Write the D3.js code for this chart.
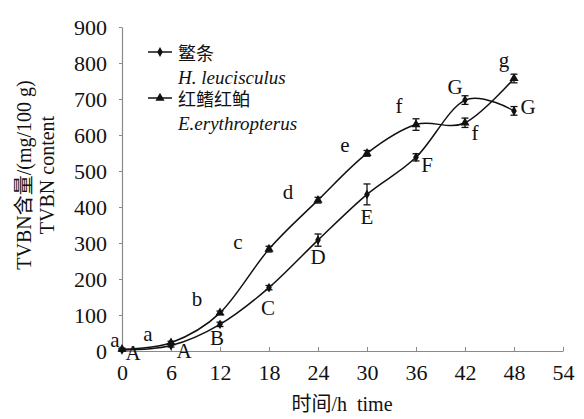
<!DOCTYPE html>
<html><head><meta charset="utf-8">
<script src="https://cdn.jsdelivr.net/npm/d3@7"></script>
<style>body{margin:0;background:#fff}</style>
</head><body>
<svg id="c" width="584" height="419"></svg>
<script>
const hours = [0, 6, 12, 18, 24, 30, 36, 42, 48];
const hlValues = [3, 15, 74, 176, 308, 435, 538, 697, 667];
const hlErrors = [3, 4, 6, 6, 17, 29, 10, 12, 12];
const hlLetters = ["A", "A", "B", "C", "D", "E", "F", "G", "G"];
const eeValues = [5, 23, 106, 283, 419, 549, 629, 634, 757];
const eeErrors = [3, 4, 5, 8, 8, 8, 16, 13, 12];
const eeLetters = ["a", "a", "b", "c", "d", "e", "f", "f", "g"];
const xTicks = [0, 6, 12, 18, 24, 30, 36, 42, 48, 54];
const yTicks = [0, 100, 200, 300, 400, 500, 600, 700, 800, 900];
const seriesNames = [["鳘条", "H. leucisculus"], ["红鳍红鲌", "E.erythropterus"]];

// label placement offsets (layout, px)
const hlOff = [[11,3],[13,5],[-3,14],[-1,20],[0,17],[0,23],[11,8],[-10,-13],[14,-4]];
const eeOff = [[-7,-9],[-23,-9],[-23,-14],[-31,-7],[-30,-8],[-22,-8],[-17,-19],[10,10],[-10,-18]];

const svg = d3.select("#c");
const x = d3.scaleLinear().domain([0, 54]).range([122, 563]);
const y = d3.scaleLinear().domain([0, 900]).range([351, 27]);
const serif = "Liberation Serif, Tinos, Times New Roman, DejaVu Serif, Noto Serif, serif";
const cjk = "Noto Sans CJK SC, sans-serif";
const axisColor = "#8a8a8a";

// axes
const xa = svg.append("g").attr("transform", `translate(0,${y(0)})`)
  .call(d3.axisBottom(x).tickValues(xTicks).tickSizeInner(-4).tickSizeOuter(0).tickPadding(13));
const ya = svg.append("g").attr("transform", `translate(${x(0)},0)`)
  .call(d3.axisLeft(y).tickValues(yTicks).tickSizeInner(3).tickSizeOuter(0).tickPadding(12));
[xa, ya].forEach(g => {
  g.attr("font-family", serif).attr("font-size", 22);
  g.select(".domain").attr("stroke", axisColor).attr("stroke-width", 1.2);
  g.selectAll(".tick line").attr("stroke", axisColor);
  g.selectAll(".tick text").attr("fill", "#111");
});
ya.selectAll(".tick text").attr("dy", "0.35em");

// axis titles
const xt = svg.append("text").attr("x", 342).attr("y", 411).attr("text-anchor", "middle")
  .attr("font-size", 20).attr("fill", "#111");
xt.append("tspan").attr("font-family", cjk).text("时间");
xt.append("tspan").attr("font-family", serif).text("/h\u00a0\u00a0time");

const yt = svg.append("g").attr("transform", "translate(31,175) rotate(-90)");
const yt1 = yt.append("text").attr("text-anchor", "middle").attr("y", 0)
  .attr("font-size", 20).attr("fill", "#111");
yt1.append("tspan").attr("font-family", serif).text("TVBN");
yt1.append("tspan").attr("font-family", cjk).text("含量");
yt1.append("tspan").attr("font-family", serif).text("/(mg/100 g)");
yt.append("text").attr("text-anchor", "middle").attr("y", 23)
  .attr("font-family", serif).attr("font-size", 20).attr("fill", "#111").text("TVBN content");

const line = d3.line().x(d => x(d[0])).y(d => y(d[1])).curve(d3.curveCardinal.tension(0));
const diamond = d3.symbol().type(d3.symbolDiamond).size(28);
const triangle = d3.symbol().type(d3.symbolTriangle).size(36);

function drawSeries(vals, errs, letters, offs, sym) {
  const pts = hours.map((h, i) => [h, vals[i]]);
  svg.append("path").attr("d", line(pts)).attr("fill", "none").attr("stroke", "#111").attr("stroke-width", 1.5);
  const g = svg.append("g");
  hours.forEach((h, i) => {
    const cx = x(h), top = y(vals[i] + errs[i]), bot = y(vals[i] - errs[i]);
    g.append("line").attr("x1", cx).attr("x2", cx).attr("y1", top).attr("y2", bot).attr("stroke", "#111").attr("stroke-width", 1.3);
    [top, bot].forEach(yy => g.append("line").attr("x1", cx - 3.5).attr("x2", cx + 3.5).attr("y1", yy).attr("y2", yy).attr("stroke", "#111").attr("stroke-width", 1.3));
    g.append("path").attr("d", sym()).attr("transform", `translate(${cx},${y(vals[i])})`).attr("fill", "#111");
    g.append("text").attr("x", cx + offs[i][0]).attr("y", y(vals[i]) + offs[i][1])
      .attr("text-anchor", "middle").attr("dominant-baseline", "central")
      .attr("font-family", serif).attr("font-size", 21).attr("fill", "#111").text(letters[i]);
  });
}
drawSeries(hlValues, hlErrors, hlLetters, hlOff, diamond);
drawSeries(eeValues, eeErrors, eeLetters, eeOff, triangle);

// legend
const leg = svg.append("g");
[[52, diamond], [98, triangle]].forEach(([ly, sym], i) => {
  leg.append("line").attr("x1", 148).attr("x2", 172).attr("y1", ly).attr("y2", ly).attr("stroke", "#111").attr("stroke-width", 1.5);
  leg.append("path").attr("d", sym()).attr("transform", `translate(160,${ly})`).attr("fill", "#111");
  leg.append("text").attr("x", 178).attr("y", ly).attr("dominant-baseline", "central")
    .attr("font-family", cjk).attr("font-size", 18).attr("fill", "#111").text(seriesNames[i][0]);
  leg.append("text").attr("x", 178).attr("y", ly + 25).attr("dominant-baseline", "central")
    .attr("font-family", serif).attr("font-style", "italic").attr("font-size", 19).attr("fill", "#111").text(seriesNames[i][1]);
});
</script>
</body></html>
